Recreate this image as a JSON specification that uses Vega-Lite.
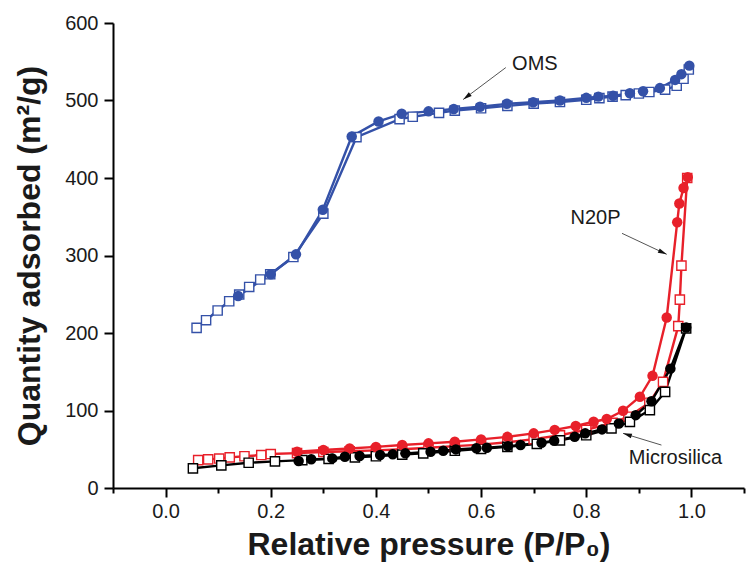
{
  "$schema": "https://vega.github.io/schema/vega-lite/v6.json",
  "width": 631,
  "height": 465,
  "autosize": {"type": "none"},
  "padding": {"left": 113, "top": 23, "right": 12, "bottom": 95},
  "background": "white",
  "config": {"view": {"stroke": null}, "font": "Liberation Sans"},
  "datasets": {
    "iso": [
      {"sample": "OMS", "branch": "ads", "p": 0.059, "q": 206.6},
      {"sample": "OMS", "branch": "ads", "p": 0.077, "q": 216.5},
      {"sample": "OMS", "branch": "ads", "p": 0.099, "q": 229},
      {"sample": "OMS", "branch": "ads", "p": 0.121, "q": 241},
      {"sample": "OMS", "branch": "ads", "p": 0.14, "q": 249.6},
      {"sample": "OMS", "branch": "ads", "p": 0.159, "q": 259.4},
      {"sample": "OMS", "branch": "ads", "p": 0.18, "q": 269},
      {"sample": "OMS", "branch": "ads", "p": 0.199, "q": 275.8},
      {"sample": "OMS", "branch": "ads", "p": 0.243, "q": 298},
      {"sample": "OMS", "branch": "ads", "p": 0.3, "q": 354},
      {"sample": "OMS", "branch": "ads", "p": 0.363, "q": 452.7},
      {"sample": "OMS", "branch": "ads", "p": 0.445, "q": 476},
      {"sample": "OMS", "branch": "ads", "p": 0.47, "q": 479},
      {"sample": "OMS", "branch": "ads", "p": 0.52, "q": 484},
      {"sample": "OMS", "branch": "ads", "p": 0.55, "q": 487},
      {"sample": "OMS", "branch": "ads", "p": 0.6, "q": 490},
      {"sample": "OMS", "branch": "ads", "p": 0.65, "q": 493},
      {"sample": "OMS", "branch": "ads", "p": 0.7, "q": 496},
      {"sample": "OMS", "branch": "ads", "p": 0.75, "q": 498},
      {"sample": "OMS", "branch": "ads", "p": 0.8, "q": 501},
      {"sample": "OMS", "branch": "ads", "p": 0.825, "q": 503},
      {"sample": "OMS", "branch": "ads", "p": 0.85, "q": 505},
      {"sample": "OMS", "branch": "ads", "p": 0.875, "q": 507},
      {"sample": "OMS", "branch": "ads", "p": 0.9, "q": 509},
      {"sample": "OMS", "branch": "ads", "p": 0.92, "q": 511},
      {"sample": "OMS", "branch": "ads", "p": 0.95, "q": 514},
      {"sample": "OMS", "branch": "ads", "p": 0.972, "q": 519},
      {"sample": "OMS", "branch": "ads", "p": 0.985, "q": 528},
      {"sample": "OMS", "branch": "ads", "p": 0.995, "q": 540},
      {"sample": "OMS", "branch": "des", "p": 0.138, "q": 247.8},
      {"sample": "OMS", "branch": "des", "p": 0.2, "q": 275.8},
      {"sample": "OMS", "branch": "des", "p": 0.248, "q": 301.5},
      {"sample": "OMS", "branch": "des", "p": 0.299, "q": 359},
      {"sample": "OMS", "branch": "des", "p": 0.354, "q": 453.6},
      {"sample": "OMS", "branch": "des", "p": 0.405, "q": 473},
      {"sample": "OMS", "branch": "des", "p": 0.449, "q": 482.8},
      {"sample": "OMS", "branch": "des", "p": 0.5, "q": 486},
      {"sample": "OMS", "branch": "des", "p": 0.548, "q": 489},
      {"sample": "OMS", "branch": "des", "p": 0.598, "q": 492},
      {"sample": "OMS", "branch": "des", "p": 0.649, "q": 495.7},
      {"sample": "OMS", "branch": "des", "p": 0.699, "q": 497.8},
      {"sample": "OMS", "branch": "des", "p": 0.75, "q": 500},
      {"sample": "OMS", "branch": "des", "p": 0.8, "q": 503.4},
      {"sample": "OMS", "branch": "des", "p": 0.823, "q": 505},
      {"sample": "OMS", "branch": "des", "p": 0.851, "q": 506},
      {"sample": "OMS", "branch": "des", "p": 0.883, "q": 509.4},
      {"sample": "OMS", "branch": "des", "p": 0.908, "q": 512},
      {"sample": "OMS", "branch": "des", "p": 0.94, "q": 516},
      {"sample": "OMS", "branch": "des", "p": 0.969, "q": 526.6},
      {"sample": "OMS", "branch": "des", "p": 0.981, "q": 534},
      {"sample": "OMS", "branch": "des", "p": 0.996, "q": 545},
      {"sample": "N20P", "branch": "ads", "p": 0.062, "q": 36},
      {"sample": "N20P", "branch": "ads", "p": 0.081, "q": 37},
      {"sample": "N20P", "branch": "ads", "p": 0.102, "q": 38},
      {"sample": "N20P", "branch": "ads", "p": 0.122, "q": 39.5},
      {"sample": "N20P", "branch": "ads", "p": 0.15, "q": 41},
      {"sample": "N20P", "branch": "ads", "p": 0.182, "q": 42.5},
      {"sample": "N20P", "branch": "ads", "p": 0.2, "q": 43.8},
      {"sample": "N20P", "branch": "ads", "p": 0.25, "q": 45},
      {"sample": "N20P", "branch": "ads", "p": 0.3, "q": 46.5},
      {"sample": "N20P", "branch": "ads", "p": 0.35, "q": 47.5},
      {"sample": "N20P", "branch": "ads", "p": 0.4, "q": 48.5},
      {"sample": "N20P", "branch": "ads", "p": 0.45, "q": 50},
      {"sample": "N20P", "branch": "ads", "p": 0.5, "q": 52},
      {"sample": "N20P", "branch": "ads", "p": 0.55, "q": 54},
      {"sample": "N20P", "branch": "ads", "p": 0.6, "q": 56},
      {"sample": "N20P", "branch": "ads", "p": 0.65, "q": 59},
      {"sample": "N20P", "branch": "ads", "p": 0.7, "q": 63},
      {"sample": "N20P", "branch": "ads", "p": 0.75, "q": 68},
      {"sample": "N20P", "branch": "ads", "p": 0.8, "q": 75},
      {"sample": "N20P", "branch": "ads", "p": 0.85, "q": 84},
      {"sample": "N20P", "branch": "ads", "p": 0.88, "q": 92},
      {"sample": "N20P", "branch": "ads", "p": 0.92, "q": 110},
      {"sample": "N20P", "branch": "ads", "p": 0.946, "q": 137},
      {"sample": "N20P", "branch": "ads", "p": 0.975, "q": 208.8},
      {"sample": "N20P", "branch": "ads", "p": 0.978, "q": 243},
      {"sample": "N20P", "branch": "ads", "p": 0.981, "q": 287},
      {"sample": "N20P", "branch": "ads", "p": 0.992, "q": 400},
      {"sample": "N20P", "branch": "des", "p": 0.25, "q": 46.8},
      {"sample": "N20P", "branch": "des", "p": 0.3, "q": 49},
      {"sample": "N20P", "branch": "des", "p": 0.35, "q": 51},
      {"sample": "N20P", "branch": "des", "p": 0.4, "q": 53},
      {"sample": "N20P", "branch": "des", "p": 0.45, "q": 55.4},
      {"sample": "N20P", "branch": "des", "p": 0.5, "q": 57.6},
      {"sample": "N20P", "branch": "des", "p": 0.55, "q": 59.7},
      {"sample": "N20P", "branch": "des", "p": 0.6, "q": 62.7},
      {"sample": "N20P", "branch": "des", "p": 0.65, "q": 66},
      {"sample": "N20P", "branch": "des", "p": 0.7, "q": 70.5},
      {"sample": "N20P", "branch": "des", "p": 0.74, "q": 75},
      {"sample": "N20P", "branch": "des", "p": 0.78, "q": 80},
      {"sample": "N20P", "branch": "des", "p": 0.814, "q": 85.5},
      {"sample": "N20P", "branch": "des", "p": 0.839, "q": 89},
      {"sample": "N20P", "branch": "des", "p": 0.87, "q": 99.6},
      {"sample": "N20P", "branch": "des", "p": 0.902, "q": 117.7},
      {"sample": "N20P", "branch": "des", "p": 0.926, "q": 144.7},
      {"sample": "N20P", "branch": "des", "p": 0.953, "q": 220},
      {"sample": "N20P", "branch": "des", "p": 0.973, "q": 343},
      {"sample": "N20P", "branch": "des", "p": 0.977, "q": 367},
      {"sample": "N20P", "branch": "des", "p": 0.985, "q": 387},
      {"sample": "N20P", "branch": "des", "p": 0.993, "q": 401},
      {"sample": "Microsilica", "branch": "ads", "p": 0.052, "q": 25.4},
      {"sample": "Microsilica", "branch": "ads", "p": 0.106, "q": 29.2},
      {"sample": "Microsilica", "branch": "ads", "p": 0.158, "q": 32.6},
      {"sample": "Microsilica", "branch": "ads", "p": 0.208, "q": 34.4},
      {"sample": "Microsilica", "branch": "ads", "p": 0.26, "q": 36},
      {"sample": "Microsilica", "branch": "ads", "p": 0.31, "q": 37.5},
      {"sample": "Microsilica", "branch": "ads", "p": 0.36, "q": 39.5},
      {"sample": "Microsilica", "branch": "ads", "p": 0.4, "q": 41},
      {"sample": "Microsilica", "branch": "ads", "p": 0.45, "q": 43},
      {"sample": "Microsilica", "branch": "ads", "p": 0.49, "q": 44.7},
      {"sample": "Microsilica", "branch": "ads", "p": 0.55, "q": 48},
      {"sample": "Microsilica", "branch": "ads", "p": 0.6, "q": 50.5},
      {"sample": "Microsilica", "branch": "ads", "p": 0.65, "q": 53},
      {"sample": "Microsilica", "branch": "ads", "p": 0.706, "q": 57},
      {"sample": "Microsilica", "branch": "ads", "p": 0.75, "q": 61.5},
      {"sample": "Microsilica", "branch": "ads", "p": 0.8, "q": 68},
      {"sample": "Microsilica", "branch": "ads", "p": 0.848, "q": 77},
      {"sample": "Microsilica", "branch": "ads", "p": 0.883, "q": 85.4},
      {"sample": "Microsilica", "branch": "ads", "p": 0.921, "q": 100.5},
      {"sample": "Microsilica", "branch": "ads", "p": 0.95, "q": 124},
      {"sample": "Microsilica", "branch": "ads", "p": 0.99, "q": 206},
      {"sample": "Microsilica", "branch": "des", "p": 0.253, "q": 34.8},
      {"sample": "Microsilica", "branch": "des", "p": 0.277, "q": 37},
      {"sample": "Microsilica", "branch": "des", "p": 0.317, "q": 38.2},
      {"sample": "Microsilica", "branch": "des", "p": 0.341, "q": 40.4},
      {"sample": "Microsilica", "branch": "des", "p": 0.369, "q": 41.2},
      {"sample": "Microsilica", "branch": "des", "p": 0.408, "q": 42.5},
      {"sample": "Microsilica", "branch": "des", "p": 0.432, "q": 43.4},
      {"sample": "Microsilica", "branch": "des", "p": 0.456, "q": 44.7},
      {"sample": "Microsilica", "branch": "des", "p": 0.504, "q": 46.8},
      {"sample": "Microsilica", "branch": "des", "p": 0.528, "q": 48},
      {"sample": "Microsilica", "branch": "des", "p": 0.552, "q": 49.8},
      {"sample": "Microsilica", "branch": "des", "p": 0.591, "q": 51.2},
      {"sample": "Microsilica", "branch": "des", "p": 0.611, "q": 52},
      {"sample": "Microsilica", "branch": "des", "p": 0.651, "q": 54},
      {"sample": "Microsilica", "branch": "des", "p": 0.675, "q": 55.4},
      {"sample": "Microsilica", "branch": "des", "p": 0.715, "q": 58.4},
      {"sample": "Microsilica", "branch": "des", "p": 0.739, "q": 61},
      {"sample": "Microsilica", "branch": "des", "p": 0.778, "q": 66},
      {"sample": "Microsilica", "branch": "des", "p": 0.798, "q": 70.5},
      {"sample": "Microsilica", "branch": "des", "p": 0.83, "q": 75.6},
      {"sample": "Microsilica", "branch": "des", "p": 0.862, "q": 83.3},
      {"sample": "Microsilica", "branch": "des", "p": 0.894, "q": 94},
      {"sample": "Microsilica", "branch": "des", "p": 0.924, "q": 112},
      {"sample": "Microsilica", "branch": "des", "p": 0.96, "q": 154},
      {"sample": "Microsilica", "branch": "des", "p": 0.99, "q": 207}
    ],
    "arrows": [
      {"p": 0.647, "q": 542.5, "p2": 0.566, "q2": 501.3, "angle": 233},
      {"p": 0.868, "q": 328.6, "p2": 0.953, "q2": 301.5, "angle": 115},
      {"p": 0.943, "q": 55.4, "p2": 0.87, "q2": 70.5, "angle": 287}
    ],
    "labels": [
      {"p": 0.659, "q": 547.7, "text": "OMS"},
      {"p": 0.77, "q": 349, "text": "N20P"},
      {"p": 0.881, "q": 38.7, "text": "Microsilica"}
    ]
  },
  "layer": [
    {
      "data": {"name": "iso"},
      "mark": {"type": "line", "strokeWidth": 2.4},
      "encoding": {
        "x": {
          "field": "p", "type": "quantitative",
          "scale": {"domain": [-0.1, 1.1], "nice": false, "zero": false},
          "title": "Relative pressure (P/P₀)",
          "axis": {
            "values": [-0.1, 0, 0.1, 0.2, 0.3, 0.4, 0.5, 0.6, 0.7, 0.8, 0.9, 1.0, 1.1],
            "labelExpr": "abs(round(datum.value*10))%2==0 ? format(datum.value,'.1f') : ''",
            "tickSize": {"condition": {"test": "abs(round(datum.value*10))%2==1", "value": 5}, "value": 9},
            "tickWidth": 2, "tickColor": "black",
            "domainWidth": 2, "domainColor": "black",
            "grid": false, "labelFlush": false, "labelOverlap": false,
            "labelFont": "Liberation Sans", "labelFontSize": 20, "labelColor": "#1a1a1a",
            "labelPadding": 4,
            "titleFont": "Liberation Sans", "titleFontSize": 32, "titleFontWeight": "bold",
            "titleColor": "#1a1a1a", "titlePadding": 8
          }
        },
        "y": {
          "field": "q", "type": "quantitative",
          "scale": {"domain": [0, 600], "nice": false},
          "title": "Quantity adsorbed (m²/g)",
          "axis": {
            "values": [0, 50, 100, 150, 200, 250, 300, 350, 400, 450, 500, 550, 600],
            "labelExpr": "datum.value%100==0 ? format(datum.value,'d') : ''",
            "tickSize": {"condition": {"test": "datum.value%100!=0", "value": 5}, "value": 9},
            "tickWidth": 2, "tickColor": "black",
            "domainWidth": 2, "domainColor": "black",
            "grid": false, "labelFlush": false, "labelOverlap": false,
            "labelFont": "Liberation Sans", "labelFontSize": 20, "labelColor": "#1a1a1a",
            "labelPadding": 6,
            "titleFont": "Liberation Sans", "titleFontSize": 32, "titleFontWeight": "bold",
            "titleColor": "#1a1a1a", "titlePadding": 18
          }
        },
        "color": {
          "field": "sample", "type": "nominal", "legend": null,
          "scale": {"domain": ["OMS", "N20P", "Microsilica"], "range": ["#3451a8", "#e8202a", "#000000"]}
        },
        "detail": {"field": "branch"}
      }
    },
    {
      "data": {"name": "iso"},
      "transform": [{"filter": "datum.branch == 'ads'"}],
      "mark": {"type": "point", "shape": "square", "filled": false, "fill": "white", "fillOpacity": 1, "size": 85, "strokeWidth": 1.4, "opacity": 1},
      "encoding": {
        "x": {"field": "p", "type": "quantitative", "title": "Relative pressure (P/P₀)"},
        "y": {"field": "q", "type": "quantitative", "title": "Quantity adsorbed (m²/g)"},
        "color": {"field": "sample", "type": "nominal", "legend": null}
      }
    },
    {
      "data": {"name": "iso"},
      "transform": [{"filter": "datum.branch == 'des'"}],
      "mark": {"type": "point", "shape": "circle", "filled": true, "size": 110, "opacity": 1},
      "encoding": {
        "x": {"field": "p", "type": "quantitative", "title": "Relative pressure (P/P₀)"},
        "y": {"field": "q", "type": "quantitative", "title": "Quantity adsorbed (m²/g)"},
        "color": {"field": "sample", "type": "nominal", "legend": null}
      }
    },
    {
      "data": {"name": "arrows"},
      "mark": {"type": "rule", "color": "#555555", "strokeWidth": 1},
      "encoding": {
        "x": {"field": "p", "type": "quantitative", "title": "Relative pressure (P/P₀)"},
        "y": {"field": "q", "type": "quantitative", "title": "Quantity adsorbed (m²/g)"},
        "x2": {"field": "p2"},
        "y2": {"field": "q2"}
      }
    },
    {
      "data": {"name": "arrows"},
      "mark": {"type": "point", "shape": "M0,0L-0.6,2.2L0.6,2.2Z", "filled": true, "color": "#111111", "size": 64, "opacity": 1},
      "encoding": {
        "x": {"field": "p2", "type": "quantitative", "title": "Relative pressure (P/P₀)"},
        "y": {"field": "q2", "type": "quantitative", "title": "Quantity adsorbed (m²/g)"},
        "angle": {"field": "angle", "type": "quantitative", "scale": null}
      }
    },
    {
      "data": {"name": "labels"},
      "mark": {"type": "text", "align": "left", "baseline": "middle", "font": "Liberation Sans", "fontSize": 20, "color": "#1a1a1a"},
      "encoding": {
        "x": {"field": "p", "type": "quantitative", "title": "Relative pressure (P/P₀)"},
        "y": {"field": "q", "type": "quantitative", "title": "Quantity adsorbed (m²/g)"},
        "text": {"field": "text"}
      }
    }
  ]
}
